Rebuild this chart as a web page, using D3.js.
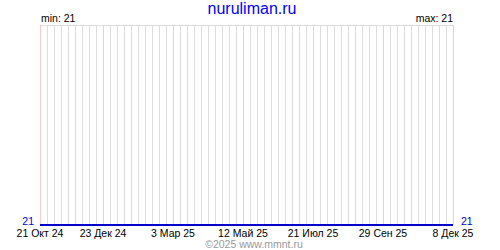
<!DOCTYPE html>
<html><head><meta charset="utf-8">
<script src="https://cdn.jsdelivr.net/npm/d3@7"></script>
<style>body{margin:0;background:#fff}svg{display:block}text{font-family:"Liberation Sans",Arial,sans-serif}</style>
</head><body>
<svg id="c" width="500" height="250"></svg>
<script>
const title = "nuruliman.ru";
const tickDates = ["2024-10-21","2024-12-23","2025-03-03","2025-05-12","2025-07-21","2025-09-29","2025-12-08"];
const tickLabels = ["21 Окт 24","23 Дек 24","3 Мар 25","12 Май 25","21 Июл 25","29 Сен 25","8 Дек 25"];
const seriesDates = ["2024-10-21","2024-12-23","2025-03-03","2025-05-12","2025-07-21","2025-09-29","2025-12-08"];
const seriesValues = [21,21,21,21,21,21,21];
const minLabel = "min: 21", maxLabel = "max: 21";
const copyright = "©2025 www.mmnt.ru";

const svg = d3.select("#c");
const parse = d3.utcParse("%Y-%m-%d");
const x = d3.scaleUtc().domain([parse(tickDates[0]), parse(tickDates[tickDates.length-1])]).range([40,453]);
const vmin = d3.min(seriesValues), vmax = d3.max(seriesValues);
const y = d3.scaleLinear().domain([vmin, vmax === vmin ? vmin+1 : vmax]).range([225,25]);

// weekly grid
const weeks = d3.utcMonday.range(x.domain()[0], d3.utcDay.offset(x.domain()[1],1));
svg.append("g").selectAll("line").data(weeks).join("line")
  .attr("x1", d=>Math.round(x(d))+0.5).attr("x2", d=>Math.round(x(d))+0.5)
  .attr("y1", 25).attr("y2", 225).attr("stroke", "#dddddd").attr("stroke-width", 1);
// top line
svg.append("line").attr("x1",40).attr("x2",454).attr("y1",25.5).attr("y2",25.5).attr("stroke","#dddddd");
// pink tick lines
svg.append("g").selectAll("line").data(tickDates.map(parse)).join("line")
  .attr("x1", d=>Math.round(x(d))+0.5).attr("x2", d=>Math.round(x(d))+0.5)
  .attr("y1", 25).attr("y2", 225).attr("stroke", "#ffc8c8").attr("stroke-width", 1);

// series line
const line = d3.line().x(d=>x(d[0])).y(d=>Math.round(y(d[1])));
svg.append("path").datum(seriesDates.map((d,i)=>[parse(d), seriesValues[i]]))
  .attr("d", line).attr("fill","none").attr("stroke","#0000cc").attr("stroke-width",2);

// title
svg.append("text").attr("x",252).attr("y",14).attr("text-anchor","middle")
  .attr("font-size",16).attr("fill","#0000ff").text(title);
svg.append("text").attr("x",41).attr("y",22).attr("font-size",10.5).attr("fill","#000").text(minLabel);
svg.append("text").attr("x",453).attr("y",22).attr("text-anchor","end").attr("font-size",10.5).attr("fill","#000").text(maxLabel);

// y labels
svg.append("text").attr("x",34).attr("y",224.5).attr("text-anchor","end").attr("font-size",10.5).attr("fill","#0000cc").text(vmin);
svg.append("text").attr("x",461).attr("y",224.5).attr("text-anchor","start").attr("font-size",10.5).attr("fill","#0000cc").text(vmax);

// x tick labels
svg.append("g").selectAll("text").data(tickDates).join("text")
  .attr("x", d=>x(parse(d))).attr("y", 236.5).attr("text-anchor","middle")
  .attr("font-size",10.5).attr("fill","#000").text((d,i)=>tickLabels[i]);

svg.append("text").attr("x",254).attr("y",247.5).attr("text-anchor","middle")
  .attr("font-size",10.5).attr("fill","#999").text(copyright);
</script>
</body></html>
